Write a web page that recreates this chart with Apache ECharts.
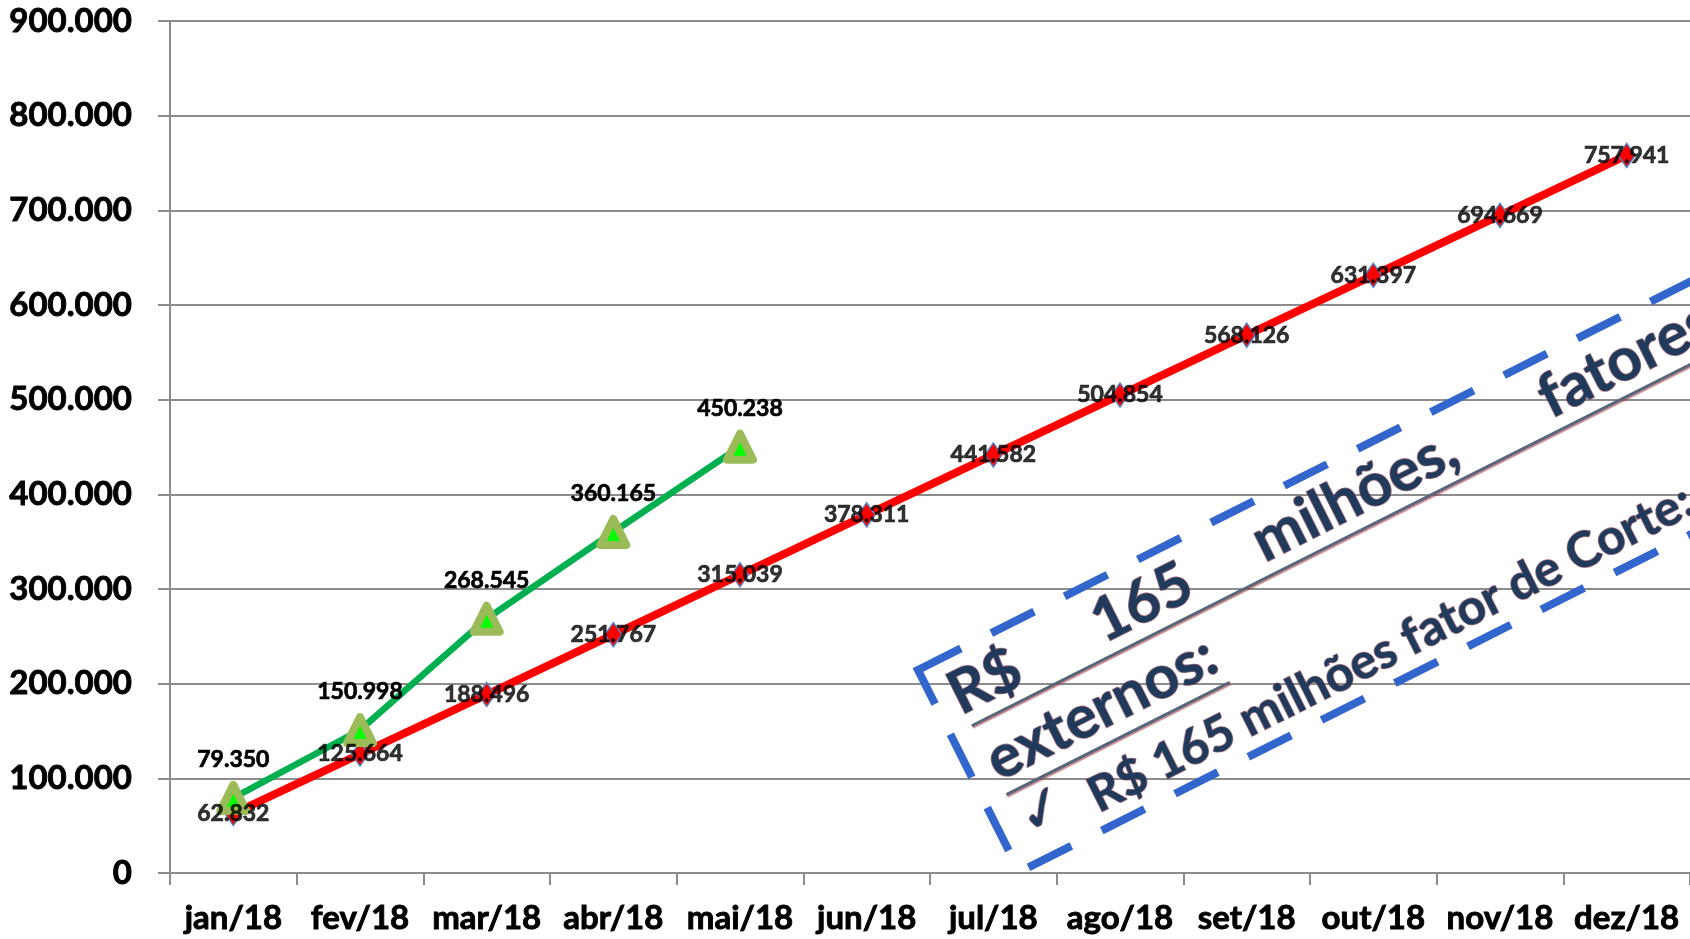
<!DOCTYPE html>
<html>
<head>
<meta charset="utf-8">
<script src="https://cdn.jsdelivr.net/npm/echarts/dist/echarts.min.js"></script>
<style>
html,body{margin:0;padding:0;background:#fff;}
#chart{width:1690px;height:939px;}
</style>
</head>
<body>
<div id="chart"></div>
<script>
// ---- data ----
var categories = ['jan/18','fev/18','mar/18','abr/18','mai/18','jun/18','jul/18','ago/18','set/18','out/18','nov/18','dez/18'];
var redSeries = [62832,125664,188496,251767,315039,378311,441582,504854,568126,631397,694669,757941];
var greenSeries = [79350,150998,268545,360165,450238];
var yTicks = [0,100000,200000,300000,400000,500000,600000,700000,800000,900000];
var noteLine1Words = ['R$','165','milhões,','fatores'];
var noteLine2 = 'externos:';
var noteLine3 = 'R$ 165 milhões fator de Corte;';
var noteCheck = '\u2713';

function fmt(v){ return String(Math.round(v)).replace(/\B(?=(\d{3})+(?!\d))/g,'.'); }

// ---- layout of the annotation (local, rotated frame) ----
var F1 = 60, F3 = 49;
var line1X = [18,178,358,678];
var baseOff = 0.34;
var textStyleBase = {
  fill: '#1f3a5a',
  stroke: 'rgba(120,50,70,0.7)',
  lineWidth: 1.6,
  shadowColor: 'rgba(170,60,70,0.45)',
  shadowOffsetX: 2,
  shadowOffsetY: 2,
  shadowBlur: 2,
  verticalAlign: 'middle',
  align: 'left'
};
function txt(t, x, baseline, size, family){
  var s = Object.assign({}, textStyleBase, {text: t, font: 'bold ' + size + 'px ' + (family || 'Lato')});
  return {type:'text', x:x, y:baseline - baseOff*size, style:s, z:10};
}
var ulStyle = {stroke:'#56657a', lineWidth:3, shadowColor:'rgba(160,50,60,0.6)', shadowOffsetX:1, shadowOffsetY:1.5, shadowBlur:1};
var children = [
  {type:'rect', shape:{x:0,y:0,width:900,height:226},
   style:{fill:'none', stroke:'#3366CC', lineWidth:8, lineDash:[48,34]}, z:9},
  {type:'line', shape:{x1:23,y1:74,x2:905,y2:74}, style:ulStyle, z:10},
  {type:'line', shape:{x1:23,y1:151,x2:273,y2:151}, style:ulStyle, z:10}
];
noteLine1Words.forEach(function(w,i){ children.push(txt(w, line1X[i], 61, F1)); });
children.push(txt(noteLine2, 22, 137, F1));
children.push(txt(noteCheck, 24, 204, 58, '"DejaVu Sans"'));
children.push(txt(noteLine3, 97, 210, F3));

var chart = echarts.init(document.getElementById('chart'), null, {renderer:'canvas'});
var gridColor = '#8c8c8c';
var labelFont = {color:'#000', fontFamily:'Lato', fontWeight:'bold', fontSize:23, textBorderColor:'#000', textBorderWidth:0.7};
var axisFont = {color:'#000', fontFamily:'Lato', fontWeight:'bold', fontSize:33, textBorderColor:'#000', textBorderWidth:0.9};
var option = {
  animation: false,
  backgroundColor: '#ffffff',
  grid: {left:170, right:0, top:21, bottom:66, containLabel:false},
  xAxis: {
    type:'category',
    data: categories,
    boundaryGap: true,
    axisLine: {show:true, lineStyle:{color:gridColor, width:2}},
    axisTick: {show:true, length:12, lineStyle:{color:gridColor, width:2}},
    axisLabel: Object.assign({interval:0, margin:29}, axisFont)
  },
  yAxis: {
    type:'value',
    min: yTicks[0], max: yTicks[yTicks.length-1], interval: yTicks[1]-yTicks[0],
    axisLine: {show:true, lineStyle:{color:gridColor, width:2}},
    axisTick: {show:true, length:12, lineStyle:{color:gridColor, width:2}},
    splitLine: {show:true, lineStyle:{color:gridColor, width:2}},
    axisLabel: Object.assign({margin:38, formatter: fmt}, axisFont)
  },
  series: [
    {
      name:'Projeção', type:'line', data: redSeries,
      lineStyle:{color:'#FF0000', width:8},
      itemStyle:{color:'#FF0000', borderColor:'#4F81BD', borderWidth:1.5},
      symbol:'diamond', symbolSize:[17,24],
      label:{show:false},
      z:2
    },
    {
      name:'Realizado', type:'line', data: greenSeries,
      lineStyle:{color:'#00B050', width:6.5},
      itemStyle:{color:'#00FF00', borderColor:'#9BBB59', borderWidth:8, borderJoin:'round'},
      symbol:'triangle', symbolSize:26,
      label:Object.assign({show:true, position:'top', distance:10, formatter:function(p){return fmt(p.value);}}, labelFont),
      z:3
    },
    {
      name:'Projeção (rótulos)', type:'scatter', data: redSeries,
      symbolSize:1, itemStyle:{color:'rgba(0,0,0,0)'}, silent:true,
      label:Object.assign({show:true, position:'inside', formatter:function(p){return fmt(p.value);}}, labelFont),
      z:5
    }
  ],
  graphic: [
    {type:'group', x:918, y:670, rotation: 26.7*Math.PI/180, children: children}
  ]
};
chart.setOption(option);
</script>
</body>
</html>
